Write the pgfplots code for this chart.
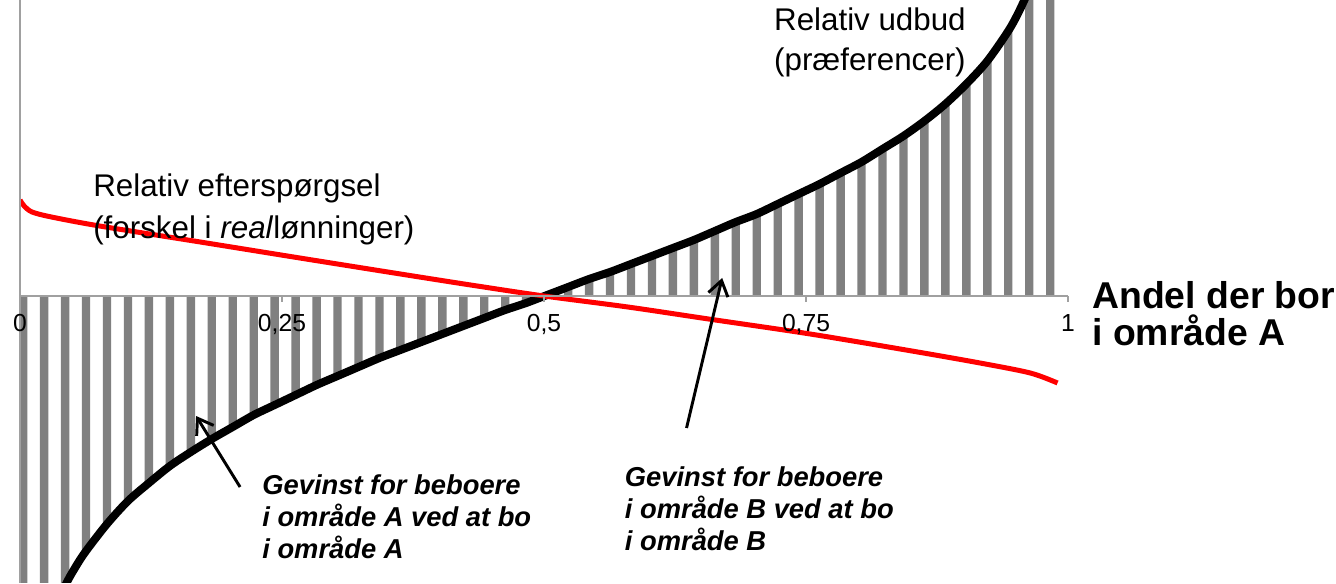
\documentclass[border=0pt]{standalone}
\usepackage{pgfplots}
\pgfplotsset{compat=1.18}
\usepackage{fontspec}
\setmainfont{Liberation Sans}
\usetikzlibrary{arrows.meta,calc}
\definecolor{bargray}{RGB}{128,128,128}
\definecolor{axgray}{RGB}{160,160,160}
\newcommand{\tl}[1]{{\fontsize{18.5}{18.5}\selectfont #1}}

\begin{document}
\begin{tikzpicture}
\begin{axis}[
    width=786pt, height=437.25pt, scale only axis,
    xmin=0, xmax=1, ymin=-2.87, ymax=2.96,
    axis on top,
    axis x line=middle, axis y line=left,
    axis line style={axgray, line width=1.5pt, -},
    xtick={0,0.25,0.5,0.75,1},
    xticklabels={\tl{0},\tl{0,25},\tl{0,5},\tl{0,75},\tl{1}},
    ytick=\empty,
    hide obscured x ticks=false,
    x tick style={axgray, line width=1.2pt},
    tick align=outside, major tick length=4.5pt,
    x tick label style={font=\fontsize{18.5}{18.5}\selectfont, yshift=-6pt},
]
% gevinst-soejler
\addplot[ybar, bar width=0.008, bar shift=0pt, fill=bargray, draw=none] coordinates {
(0.003,-5.4) (0.023,-3.52) (0.043,-2.90) (0.063,-2.55) (0.083,-2.28)
(0.103,-2.05) (0.123,-1.87) (0.143,-1.70) (0.163,-1.56) (0.183,-1.43)
(0.203,-1.31) (0.223,-1.19) (0.243,-1.09) (0.263,-0.99) (0.283,-0.89)
(0.303,-0.80) (0.323,-0.71) (0.343,-0.62) (0.363,-0.54) (0.383,-0.46)
(0.403,-0.38) (0.423,-0.30) (0.443,-0.22) (0.463,-0.14) (0.483,-0.07)
(0.503,0.01) (0.523,0.09) (0.543,0.17) (0.563,0.24) (0.583,0.32)
(0.603,0.40) (0.623,0.48) (0.643,0.56) (0.663,0.65) (0.683,0.74)
(0.703,0.82) (0.723,0.92) (0.743,1.02) (0.763,1.12) (0.783,1.23)
(0.803,1.34) (0.823,1.47) (0.843,1.60) (0.863,1.75) (0.883,1.92)
(0.903,2.12) (0.923,2.35) (0.943,2.65) (0.963,3.07) (0.983,3.9)
};
% relativ udbud
\addplot[black, line width=6pt, smooth] coordinates {
(0.033,-3.18) (0.043,-2.90) (0.053,-2.71) (0.063,-2.55) (0.083,-2.28)
(0.103,-2.05) (0.123,-1.87) (0.143,-1.70) (0.163,-1.56) (0.183,-1.43)
(0.203,-1.31) (0.223,-1.19) (0.243,-1.09) (0.263,-0.99) (0.283,-0.89)
(0.303,-0.80) (0.323,-0.71) (0.343,-0.62) (0.363,-0.54) (0.383,-0.46)
(0.403,-0.38) (0.423,-0.30) (0.443,-0.22) (0.463,-0.14) (0.483,-0.07)
(0.503,0.01) (0.523,0.09) (0.543,0.17) (0.563,0.24) (0.583,0.32)
(0.603,0.40) (0.623,0.48) (0.643,0.56) (0.663,0.65) (0.683,0.74)
(0.703,0.82) (0.723,0.92) (0.743,1.02) (0.763,1.12) (0.783,1.23)
(0.803,1.34) (0.823,1.47) (0.843,1.60) (0.863,1.75) (0.883,1.92)
(0.903,2.12) (0.923,2.35) (0.943,2.65) (0.953,2.84) (0.963,3.07) (0.970,3.27)
};
% relativ efterspoergsel
\addplot[red, line width=3.75pt, smooth] coordinates {
(0,0.96) (0.004,0.90) (0.0115,0.84) (0.03,0.79) (0.076,0.70) (0.172,0.54)
(0.267,0.38) (0.363,0.22) (0.43,0.11) (0.5,0) (0.58,-0.11) (0.657,-0.23)
(0.754,-0.38) (0.851,-0.55) (0.916,-0.67) (0.964,-0.77) (0.99,-0.87)
};
\coordinate (ef) at (axis cs:0.0697,0.865);
\coordinate (ud) at (axis cs:0.811,2.54);
\coordinate (ga) at (axis cs:0.231,-2.21);
\coordinate (gb) at (axis cs:0.577,-2.13);
\coordinate (an) at (axis cs:1.023,-0.175);
\coordinate (a1) at (axis cs:0.210,-1.91);
\coordinate (a2) at (axis cs:0.168,-1.20);
\coordinate (b1) at (axis cs:0.636,-1.32);
\coordinate (b2) at (axis cs:0.670,0.18);
\end{axis}
\node[anchor=west, align=left, inner sep=0, font=\fontsize{23.5}{31}\selectfont] at (ef)
  {Relativ efterspørgsel\\(forskel i \textit{real}lønninger)};
\node[align=center, inner sep=0, font=\fontsize{23.5}{30}\selectfont] at (ud)
  {Relativ udbud\\(præferencer)};
\node[anchor=west, align=left, inner sep=0, font=\fontsize{20.5}{24}\selectfont\bfseries\itshape] at (ga)
  {Gevinst for beboere\\i område A ved at bo\\i område A};
\node[anchor=west, align=left, inner sep=0, font=\fontsize{20.5}{24}\selectfont\bfseries\itshape] at (gb)
  {Gevinst for beboere\\i område B ved at bo\\i område B};
\node[anchor=west, align=left, inner sep=0, font=\fontsize{28}{28}\selectfont\bfseries] at (an)
  {Andel der bor\\i område A};
\draw[line width=2.2pt, -{Straight Barb[length=11pt,width=15pt]}] (a1) -- (a2);
\draw[line width=2.2pt, -{Straight Barb[length=11pt,width=15pt]}] (b1) -- (b2);
\pgfresetboundingbox
\path[use as bounding box] ($(current axis.south west)+(-15pt,0)$) rectangle ++(1002pt,437.25pt);
\end{tikzpicture}
\end{document}
